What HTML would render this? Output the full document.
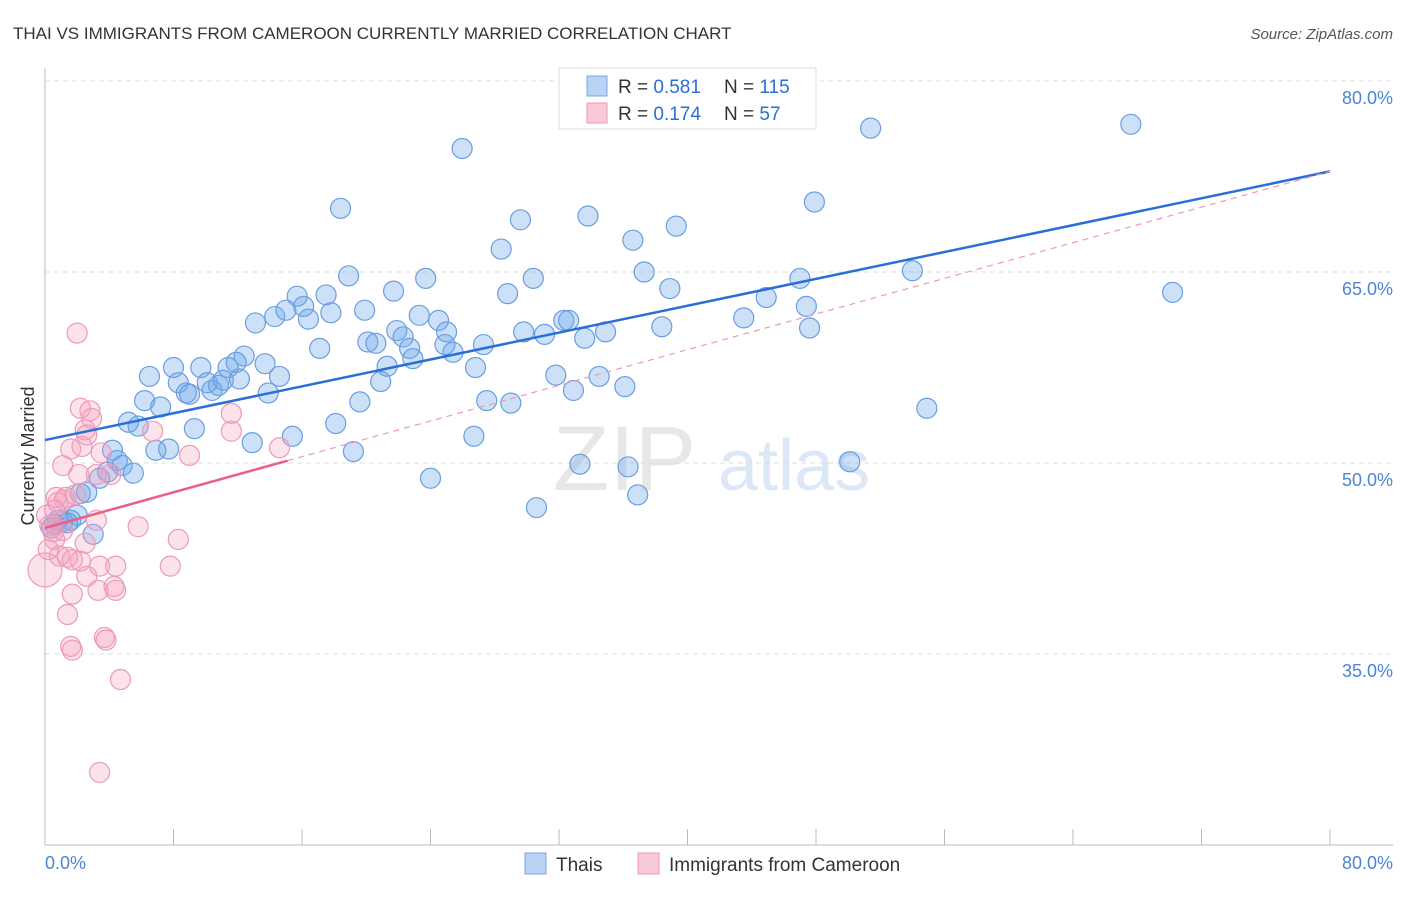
<!DOCTYPE html>
<html><head><meta charset="utf-8"><style>
body{margin:0;background:#fff;font-family:"Liberation Sans",sans-serif}
svg text{font-family:"Liberation Sans",sans-serif}
</style></head><body>
<svg id="chart" width="1406" height="892" viewBox="0 0 1406 892" xmlns="http://www.w3.org/2000/svg">
<text x="13" y="39" font-size="17" fill="#333">THAI VS IMMIGRANTS FROM CAMEROON CURRENTLY MARRIED CORRELATION CHART</text>
<text x="1393" y="39" font-size="15" fill="#555" font-style="italic" text-anchor="end">Source: ZipAtlas.com</text>
<g opacity="0.35">
<text x="553" y="490" font-size="92" fill="#bbb" font-family="Liberation Serif">ZIP</text>
<text x="718" y="490" font-size="72" fill="#9cc0ea">atlas</text>
</g>
<g id="grid"></g>
<g id="axes"></g>
<g id="pts"></g>
<g id="lines"></g>
<g>
<rect x="559" y="68" width="257" height="61" fill="#fff" stroke="#ddd"/>
<rect x="587" y="76" width="20" height="20" fill="#b9d3f5" stroke="#7aa6e0"/>
<rect x="587" y="103" width="20" height="20" fill="#f9c9d8" stroke="#eb9ab5"/>
<text x="618" y="93" font-size="19" fill="#333">R = <tspan fill="#2a6fd6">0.581</tspan><tspan x="724">N = </tspan><tspan fill="#2a6fd6">115</tspan></text>
<text x="618" y="120" font-size="19" fill="#333">R = <tspan fill="#2a6fd6">0.174</tspan><tspan x="724">N = </tspan><tspan fill="#2a6fd6"> 57</tspan></text>
</g>
<text x="34" y="456" font-size="18" fill="#333" transform="rotate(-90 34 456)" text-anchor="middle">Currently Married</text>
<text x="45" y="869" font-size="18" fill="#4a86d8">0.0%</text>
<text x="1393" y="869" font-size="18" fill="#4a86d8" text-anchor="end">80.0%</text>
<g>
<rect x="525" y="853" width="21" height="21" fill="#b9d3f5" stroke="#7aa6e0"/>
<text x="556" y="871" font-size="19" fill="#333">Thais</text>
<rect x="638" y="853" width="21" height="21" fill="#f9c9d8" stroke="#eb9ab5"/>
<text x="669" y="871" font-size="19" fill="#333">Immigrants from Cameroon</text>
</g>
</svg>
<script>
const yTicks=[80,65,50,35];
const yTickLabels=["80.0%","65.0%","50.0%","35.0%"];
const xTicks=[0,8,16,24,32,40,48,56,64,72,80];
const thaiX=[25.97,51.4,67.6,18.4,29.6,33.8,47.9,28.4,36.6,39.3,18.9,23.7,30.4,37.3,54.0,15.7,17.5,21.7,28.8,38.9,47.0,44.9,70.2,13.1,14.3,15.0,16.1,16.4,17.8,19.9,23.3,21.9,24.5,25.0,29.8,31.1,32.3,32.6,33.6,34.9,38.4,43.5,47.4,47.6,17.1,20.1,20.6,22.3,22.7,22.9,24.9,25.4,27.3,6.5,8.0,9.7,12.4,11.9,11.4,13.7,14.6,8.3,10.1,10.4,10.8,11.1,12.1,13.9,21.3,20.9,26.8,31.8,34.5,36.1,32.9,8.8,9.0,6.2,7.2,19.6,27.5,29.0,54.9,5.2,5.8,9.3,18.1,15.4,26.7,12.9,4.2,6.9,7.7,19.2,4.5,4.8,5.5,3.4,3.9,33.3,36.3,50.1,24.0,2.6,2.2,36.9,30.6,2.0,1.6,1.1,0.6,0.8,0.4,3.0,1.4];
const thaiY=[74.7,76.3,76.6,70.0,69.1,69.4,70.5,66.8,67.5,68.6,64.7,64.5,64.5,65.0,65.1,63.1,63.2,63.5,63.3,63.7,64.5,63.0,63.4,61.0,61.5,62.0,62.3,61.3,61.8,62.0,61.6,60.4,61.2,60.3,60.3,60.1,61.2,61.2,59.8,60.3,60.7,61.4,62.3,60.6,59.0,59.5,59.4,59.9,59.0,58.2,59.3,58.7,59.3,56.8,57.5,57.5,58.4,57.9,57.5,57.8,56.8,56.3,56.3,55.7,56.1,56.5,56.6,55.5,57.6,56.4,57.5,56.9,56.8,56.0,55.7,55.5,55.4,54.9,54.4,54.8,54.9,54.7,54.3,53.2,52.9,52.7,53.1,52.1,52.1,51.6,51.0,51.0,51.1,50.9,50.2,49.8,49.2,48.8,49.3,49.9,49.7,50.1,48.8,47.7,47.6,47.5,46.5,45.9,45.5,45.4,45.2,45.5,44.9,44.4,45.3];
const camX=[2.0,2.2,2.8,2.9,2.5,2.6,6.7,11.6,11.6,1.6,2.3,9.0,3.5,1.1,2.1,3.2,4.1,14.6,1.3,0.8,0.7,1.2,1.9,3.2,0.1,0.3,0.5,0.6,2.5,5.8,8.3,0.9,1.4,1.7,2.2,3.4,4.4,2.6,7.8,1.7,3.3,4.3,4.4,1.4,1.6,1.7,3.7,3.8,4.7,3.4,0.0,0.2,1.1,0.6];
const camY=[60.2,54.3,54.1,53.5,52.6,52.2,52.5,53.9,52.5,51.1,51.3,50.6,50.8,49.8,49.1,49.1,49.1,51.2,47.3,46.9,47.3,47.1,47.5,45.5,45.9,45.1,44.6,44.0,43.7,45.0,44.0,42.7,42.6,42.4,42.3,41.9,41.9,41.1,41.9,39.7,40.0,40.3,40.0,38.1,35.6,35.3,36.3,36.1,33.0,25.7,41.6,43.2,44.7,46.3];
const thaiTrend=[51.8,72.9];
const camTrend=[44.9,0.35];
const camSolidEnd=15.1;

const NS="http://www.w3.org/2000/svg";
const X0=45,X1=1330,Y0=845,Ytop=81;
function sx(v){return X0+(v/80)*(X1-X0);}
function sy(v){return Y0-(v-20)/60*(Y0-Ytop);}
function mk(tag,attrs,parent){const e=document.createElementNS(NS,tag);for(const k in attrs)e.setAttribute(k,attrs[k]);parent.appendChild(e);return e;}
const grid=document.getElementById('grid'),axes=document.getElementById('axes'),pts=document.getElementById('pts'),lines=document.getElementById('lines');
yTicks.forEach((t,i)=>{
 const l=mk('line',{x1:45,x2:1393,y1:sy(t),y2:sy(t),stroke:'#ddd','stroke-dasharray':'5,4'},grid);
 
 
 const tx=mk('text',{x:1393,y:sy(t)+23,'font-size':18,fill:'#4a86d8','text-anchor':'end'},grid);
 tx.textContent=yTickLabels[i];
 
 
});
const ya=mk('line',{x1:45,x2:45,y1:68,y2:845,stroke:'#bbb'},axes);


const xa=mk('line',{x1:45,x2:1393,y1:845,y2:845,stroke:'#bbb'},axes);


xTicks.forEach(t=>{
 const l=mk('line',{x1:sx(t),x2:sx(t),y1:829,y2:845,stroke:'#bbb'},axes);
 
 
});
thaiX.forEach((v,i)=>{
 const c=mk('circle',{cx:sx(v),cy:sy(thaiY[i]),r:10,fill:'rgba(110,165,235,0.35)',stroke:'#6b9de0','stroke-width':1.2},pts);
 
 
});
camX.forEach((v,i)=>{
 const c=mk('circle',{cx:sx(v),cy:sy(camY[i]),r:(i===50?17:10),fill:'rgba(245,160,190,0.3)',stroke:'#ec9ab6','stroke-width':1.2},pts);
 
 
});
const tl=mk('line',{x1:sx(0),y1:sy(thaiTrend[0]),x2:sx(80),y2:sy(thaiTrend[1]),stroke:'#2a6fd6','stroke-width':2.5},lines);


const cs=mk('line',{x1:sx(0),y1:sy(camTrend[0]),x2:sx(camSolidEnd),y2:sy(camTrend[0]+camTrend[1]*camSolidEnd),stroke:'#e8608a','stroke-width':2.5},lines);


const cd=mk('line',{x1:sx(camSolidEnd),y1:sy(camTrend[0]+camTrend[1]*camSolidEnd),x2:sx(80),y2:sy(camTrend[0]+camTrend[1]*80),stroke:'#eb9ab5','stroke-width':1.2,'stroke-dasharray':'6,5'},lines);


</script>
</body></html>
